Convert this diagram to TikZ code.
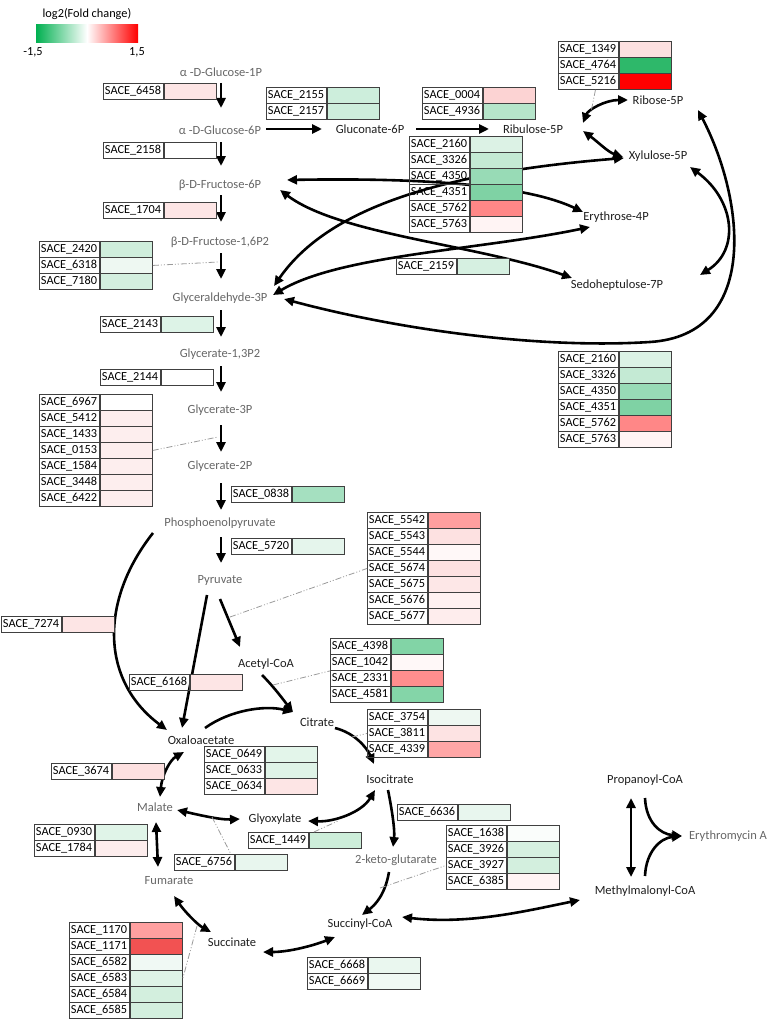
\documentclass[tikz,border=0pt]{standalone}
\usepackage{fontspec}
\setmainfont{Carlito}
\usetikzlibrary{arrows.meta,calc}
\definecolor{metgray}{HTML}{666666}
\definecolor{metblack}{HTML}{1E1E1E}
\definecolor{tabline}{HTML}{404040}
\definecolor{legG}{HTML}{00B050}
\definecolor{legR}{HTML}{FF0000}
\definecolor{linkgray}{HTML}{9A9A9A}
\tikzset{
 met/.style={font=\fontsize{12.5}{14}\selectfont, text=metgray, inner sep=0pt},
 metb/.style={met, text=metblack},
 namecell/.style={anchor=north west, draw=tabline, line width=0.9pt, text width=57pt, inner xsep=1.5pt, inner ysep=0pt, minimum height=16pt, align=left, font=\fontsize{12.3}{14}\selectfont, text=black},
 colcell/.style={anchor=north west, draw=tabline, line width=0.9pt, minimum width=52pt, minimum height=16pt, inner sep=0pt},
 rx/.style={line width=2.6pt, -{Triangle[length=10pt,width=9pt]}},
 rxx/.style={line width=2.6pt, {Triangle[length=10pt,width=9pt]}-{Triangle[length=10pt,width=9pt]}},
 link/.style={draw=linkgray, line width=0.8pt, dash pattern=on 6pt off 2pt on 1pt off 2pt on 1pt off 2pt}
}
\newcommand\genetab[4]{%
  \foreach \n/\h [count=\i] in {#4} {
    \definecolor{cc}{HTML}{\h}
    \node[namecell] (#1n\i) at ({#2},{#3+(\i-1)*16}) {SACE\_\n};
    \node[colcell, fill=cc] (#1c\i) at (#1n\i.north east) {};
  }%
}
\begin{document}
\begin{tikzpicture}[x=1pt,y=-1pt]
\useasboundingbox (0,0) rectangle (770,1022);
% legend
\node[font=\fontsize{12.3}{14}\selectfont] (legt) at (87,14) {log2(Fold change)};
\shade[left color=legG, right color=white] (36,25) rectangle (87,43);
\shade[left color=white, right color=legR] (87,25) rectangle (138,43);
\node[font=\fontsize{12.3}{14}\selectfont] (legmin) at (33,52) {-1,5};
\node[font=\fontsize{12.3}{14}\selectfont] (legmax) at (137,52) {1,5};

% metabolites
\node[met] (glc1p) at (221,72) {α -D-Glucose-1P};
\node[met] (glc6p) at (220,130) {α -D-Glucose-6P};
\node[metb] (gluc6p) at (370,129) {Gluconate-6P};
\node[metb] (ru5p) at (533,129) {Ribulose-5P};
\node[metb] (r5p) at (658,100) {Ribose-5P};
\node[metb] (x5p) at (658,156) {Xylulose-5P};
\node[metb] (e4p) at (616,217) {Erythrose-4P};
\node[metb] (s7p) at (617,285) {Sedoheptulose-7P};
\node[met] (f6p) at (220,185) {β-D-Fructose-6P};
\node[met] (f16p) at (220,242) {β-D-Fructose-1,6P2};
\node[met] (g3p) at (220,298) {Glyceraldehyde-3P};
\node[met] (g13p) at (220,354) {Glycerate-1,3P2};
\node[met] (g3pa) at (220,410) {Glycerate-3P};
\node[met] (g2p) at (220,466) {Glycerate-2P};
\node[met] (pep) at (220,523) {Phosphoenolpyruvate};
\node[met] (pyr) at (220,580) {Pyruvate};
\node[metb] (acoa) at (266,664) {Acetyl-CoA};
\node[metb] (cit) at (317,722) {Citrate};
\node[metb] (oaa) at (201,740) {Oxaloacetate};
\node[metb] (icit) at (390,779) {Isocitrate};
\node[met] (mal) at (155,807) {Malate};
\node[metb] (glx) at (275,819) {Glyoxylate};
\node[met] (fum) at (169,881) {Fumarate};
\node[met] (akg) at (396,860) {2-keto-glutarate};
\node[metb] (scoa) at (360,924) {Succinyl-CoA};
\node[metb] (suc) at (232,942) {Succinate};
\node[metb] (pcoa) at (645,780) {Propanoyl-CoA};
\node[metb] (mmcoa) at (645,891) {Methylmalonyl-CoA};
\node[met] (ery) at (728,836) {Erythromycin A};

% glycolysis
\draw[rx] ($(glc1p)+(0,11)$) -- ($(glc6p)+(1,-22)$);
\draw[rx] ($(glc6p)+(1,12)$) -- ($(f6p)+(1,-19)$);
\draw[rx] ($(f6p)+(1,10)$) -- ($(f16p)+(1,-20)$);
\draw[rx] ($(f16p)+(1,11)$) -- ($(g3p)+(1,-19)$);
\draw[rx] ($(g3p)+(1,12)$) -- ($(g13p)+(1,-17)$);
\draw[rx] ($(g13p)+(1,12)$) -- ($(g3pa)+(1,-18)$);
\draw[rx] ($(g3pa)+(1,15)$) -- ($(g2p)+(1,-14)$);
\draw[rx] ($(g2p)+(1,17)$) -- ($(pep)+(1,-13)$);
\draw[rx] ($(pep)+(1,14)$) -- ($(pyr)+(1,-17)$);
% pentose phosphate
\draw[rx] ($(glc6p)+(46,-1)$) -- ($(gluc6p)+(-48,0)$);
\draw[rx] ($(gluc6p)+(46,0)$) -- ($(ru5p)+(-44,0)$);
\draw[rxx] ($(ru5p)+(50,-6)$) .. controls (588,110) and (605,100) .. ($(r5p)+(-30,0)$);
\draw[rxx] ($(ru5p)+(50,2)$) .. controls (598,142) and (608,152) .. ($(x5p)+(-35,1)$);
\draw[rxx] ($(g3p)+(54,-12)$) .. controls (330,205) and (450,172) .. ($(x5p)+(-34,2)$);
\draw[rxx] ($(f6p)+(67,-5)$) .. controls (400,178) and (520,182) .. ($(e4p)+(-33,-5)$);
\draw[rxx] ($(f6p)+(60,5)$) .. controls (340,235) and (480,245) .. ($(s7p)+(-45,-7)$);
\draw[rxx] ($(g3p)+(53,-3)$) .. controls (340,255) and (480,250) .. ($(e4p)+(-26,10)$);
\draw[rxx] ($(r5p)+(40,10)$) .. controls (745,200) and (760,335) .. (650,342) .. controls (540,349) and (400,330) .. ($(g3p)+(64,1)$);
\draw[rxx] ($(x5p)+(32,11)$) .. controls (735,200) and (740,250) .. ($(s7p)+(83,-10)$);
% TCA etc.
\draw[rx] ($(pyr)+(-13,15)$) -- ($(oaa)+(-19,-12)$);
\draw[rx] ($(pyr)+(0,19)$) -- ($(acoa)+(-26,-17)$);
\draw[rx] ($(pep)+(-67,10)$) .. controls (100,600) and (100,680) .. ($(oaa)+(-34,-10)$);
\draw[rx] ($(acoa)+(-4,11)$) .. controls (275,688) and (285,702) .. ($(cit)+(-24,-10)$);
\draw[rx] ($(oaa)+(4,-12)$) .. controls (230,710) and (265,705) .. ($(cit)+(-24,-10)$);
\draw[rx] ($(cit)+(18,6)$) .. controls (355,733) and (367,748) .. ($(icit)+(-16,-15)$);
\draw[rx] ($(icit)+(-2,11)$) .. controls (392,810) and (395,830) .. ($(akg)+(-3,-13)$);
\draw[rxx] ($(icit)+(-15,11)$) .. controls (362,812) and (335,822) .. ($(glx)+(33,2)$);
\draw[rxx] ($(mal)+(22,3)$) .. controls (195,814) and (220,820) .. ($(glx)+(-35,0)$);
\draw[rxx] ($(mal)+(5,-10)$) .. controls (162,775) and (170,760) .. ($(oaa)+(-17,12)$);
\draw[rxx] ($(mal)+(1,15)$) -- ($(fum)+(-11,-14)$);
\draw[rxx] ($(fum)+(5,15)$) .. controls (185,912) and (198,925) .. ($(suc)+(-21,-10)$);
\draw[rxx] ($(suc)+(31,10)$) .. controls (290,952) and (315,945) .. ($(scoa)+(-25,13)$);
\draw[rx] ($(akg)+(-7,12)$) .. controls (385,895) and (375,905) .. ($(scoa)+(2,-9)$);
\draw[rxx] ($(scoa)+(42,-7)$) .. controls (470,925) and (530,910) .. ($(mmcoa)+(-65,9)$);
\draw[rxx] ($(pcoa)+(-14,18)$) -- ($(mmcoa)+(-14,-14)$);
\draw[rx] ($(pcoa)+(0,18)$) .. controls (646,822) and (660,834) .. ($(ery)+(-46,0)$);
\draw[rx] ($(mmcoa)+(0,-15)$) .. controls (646,852) and (660,838) .. ($(ery)+(-46,0)$);

% gene tables
\genetab{T1}{103}{83}{6458/FDE5E5}
\genetab{T2}{266}{87}{2155/CDEEDC,2157/CDEEDC}
\genetab{T3}{422}{87}{0004/FCD3D3,4936/B6E5CA}
\genetab{T4}{558}{41}{1349/FDE0E0,4764/2EB86A,5216/FF0000}
\genetab{T5}{103}{142}{2158/FFFFFF}
\genetab{T6}{409}{136}{2160/DCF2E5,3326/C4EAD4,4350/98DBB6,4351/7FD2A4,5762/FF8787,5763/FFF4F4}
\genetab{T7}{103}{202}{1704/FDE5E5}
\genetab{T8}{39}{241}{2420/CFEEDC,6318/EEF8F2,7180/D3EFDF}
\genetab{T9}{396}{258}{2159/D6F0E1}
\genetab{T10}{100}{316}{2143/DDF3E7}
\genetab{T11}{100}{369}{2144/FFFFFF}
\genetab{T12}{39}{394}{6967/FFFFFF,5412/FDEEEE,1433/FDEEEE,0153/FDEEEE,1584/FDEEEE,3448/FDEEEE,6422/FDEEEE}
\genetab{T13}{231}{486}{0838/A5E0C0}
\genetab{T14}{231}{538}{5720/E5F5EC}
\genetab{T15}{367}{512}{5542/FF9F9F,5543/FDE1E1,5544/FFF8F8,5674/FDE1E1,5675/FDE7E7,5676/FFF1F1,5677/FEEDED}
\genetab{T16}{558}{351}{2160/DCF2E5,3326/C4EAD4,4350/98DBB6,4351/7FD2A4,5762/FF8787,5763/FFF4F4}
\genetab{T17}{1}{616}{7274/FDE5E5}
\genetab{T18}{129}{674}{6168/FDE5E5}
\genetab{T19}{330}{638}{4398/82D4A6,1042/FFF8F8,2331/FF8E8E,4581/84D5A8}
\genetab{T20}{367}{709}{3754/EEF8F2,3811/FDE3E3,4339/FFA6A6}
\genetab{T21}{204}{746}{0649/E3F5EA,0633/DFF3E7,0634/FDE5E5}
\genetab{T22}{51}{763}{3674/FDE0E0}
\genetab{T23}{34}{824}{0930/E0F4E8,1784/FDEDED}
\genetab{T24}{248}{832}{1449/CDEEDA}
\genetab{T25}{174}{854}{6756/E8F6EE}
\genetab{T26}{397}{804}{6636/E8F6EE}
\genetab{T27}{446}{825}{1638/FAFDFB,3926/D6F0E0,3927/D3EFDE,6385/FFF4F4}
\genetab{T28}{69}{922}{1170/FFA0A0,1171/F25252,6582/F0F9F4,6583/DFF3E7,6584/D3EFDE,6585/D3EFDE}
\genetab{T29}{307}{957}{6668/EAF7EF,6669/F0F9F4}

% enzyme links
\coordinate (kRR) at (591,112);
\coordinate (kF16) at (218,262);
\coordinate (kG3) at (218,437);
\coordinate (kPA) at (230,617);
\coordinate (kAC) at (273,685);
\coordinate (kCI) at (352,737);
\coordinate (kIG) at (338,821);
\coordinate (kMG) at (212,817);
\coordinate (kKS) at (380,888);
\coordinate (kFS) at (197,926);
\draw[link] ($(T4n3.south)+(7,0)$) -- (kRR);
\draw[link] (T8c2.east) -- (kF16);
\draw[link] (T12c4.east) -- (kG3);
\draw[link] (kPA) -- (T15n4.west);
\draw[link] (kAC) -- (T19n2.south west);
\draw[link] (kCI) -- (T20n2.west);
\draw[link] ($(T24c1.north west)+(5,0)$) -- (kIG);
\draw[link] (kMG) -- ($(T25n1.north east)+(-4,0)$);
\draw[link] (kKS) -- (T27n3.west);
\draw[link] (kFS) -- (T28c4.east);
\end{tikzpicture}
\end{document}
